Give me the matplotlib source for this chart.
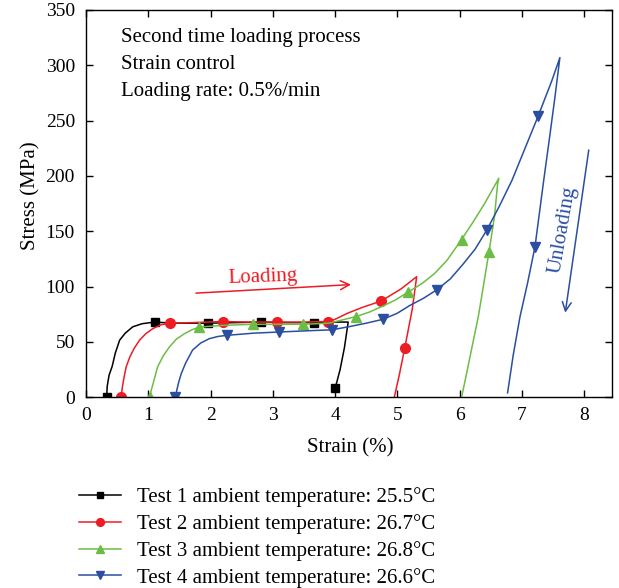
import matplotlib
matplotlib.use('Agg')
import matplotlib.pyplot as plt
from matplotlib.lines import Line2D

plt.rcParams['font.family'] = ['Liberation Serif', 'DejaVu Serif']

# test 1 (black)
strain_1 = [0.33, 0.34, 0.37, 0.42, 0.47, 0.54, 0.63, 0.75, 0.90, 1.10, 1.40, 1.96, 2.40, 2.81, 3.20,
            3.66, 4.00, 4.21, 4.15, 4.08, 4.00]
stress_1 = [0, 10, 20, 28, 40, 51.7, 58, 63.7, 66.5, 68, 67, 67, 67.5, 68, 67.5,
            67.5, 68, 68, 45, 25, 8]
marks_1 = [0, 9, 11, 13, 15, 20]

# test 2 (red)
strain_2 = [0.565, 0.58, 0.61, 0.645, 0.70, 0.77, 0.86, 0.96, 1.07, 1.20, 1.35, 1.70, 2.20, 2.60, 3.06,
            3.50, 3.88, 4.00, 4.20, 4.45, 4.74, 5.06, 5.31, 5.24, 5.12, 5.03, 4.95]
stress_2 = [0, 8, 18, 27.6, 36, 44, 51.7, 57.5, 62, 65.5, 67, 67.5, 68.5, 68, 68,
            68, 68.5, 70.5, 76, 81.5, 87, 98, 109, 80, 45, 20, 0]
marks_2 = [0, 10, 12, 14, 16, 20, 24]

# test 3 (green)
strain_3 = [1.02, 1.05, 1.09, 1.15, 1.24, 1.34, 1.45, 1.58, 1.70, 1.82, 2.20, 2.68, 3.10, 3.49, 3.90,
            4.34, 4.55, 4.75, 4.97, 5.17, 5.40, 5.60, 5.80, 6.03, 6.20, 6.40, 6.63, 6.61, 6.56, 6.47,
            6.38, 6.30, 6.19, 6.08, 6.03]
stress_3 = [0, 7, 15, 27.6, 37.5, 45.6, 52.5, 57.5, 61, 63.5, 65, 66, 66, 66, 67,
            73, 77, 82, 88, 95, 103, 112, 124, 142.5, 157, 175, 198, 193, 163.5, 131,
            100, 73, 43, 13, 0]
marks_3 = [0, 9, 11, 13, 15, 19, 23, 29]

# test 4 (blue)
strain_4 = [1.435, 1.46, 1.49, 1.53, 1.60, 1.71, 1.84, 1.98, 2.12, 2.26, 2.70, 3.10, 3.50, 3.95, 4.24,
            4.50, 4.77, 5.00, 5.20, 5.42, 5.63, 5.85, 6.05, 6.25, 6.44, 6.64, 6.84, 7.05, 7.26, 7.48,
            7.61, 7.53, 7.44, 7.35, 7.21, 7.09, 6.97, 6.86, 6.77]
stress_4 = [0, 7, 14, 21.6, 31, 42.6, 49, 53, 55, 56, 58, 59, 60, 61, 64,
            67, 70.5, 76, 83, 89.5, 97, 107, 120, 134, 151.5, 173, 196, 225, 254, 286,
            307, 271, 233, 196, 136, 103, 73, 38, 4]
marks_4 = [0, 9, 11, 13, 16, 20, 24, 28, 34]

labels = ['Test 1 ambient temperature: 25.5°C',
          'Test 2 ambient temperature: 26.7°C',
          'Test 3 ambient temperature: 26.8°C',
          'Test 4 ambient temperature: 26.6°C']
colors = ['#000000', '#ed1c24', '#6cbd45', '#2a4ea0']
markers = ['s', 'o', '^', 'v']
msizes = [6, 7, 7.5, 7.5]

notes = ['Second time loading process', 'Strain control', 'Loading rate: 0.5%/min']

fig = plt.figure(figsize=(6.19, 5.88), dpi=100)
ax = fig.add_axes([0.139, 0.3243, 0.850, 0.6587])

series = [(strain_1, stress_1, marks_1), (strain_2, stress_2, marks_2),
          (strain_3, stress_3, marks_3), (strain_4, stress_4, marks_4)]
handles = []
for (xs, ys, idx), c, m, ms, lab in zip(series, colors, markers, msizes, labels):
    ax.plot(xs, ys, color=c, lw=1.1)
    ax.plot([xs[i] for i in idx], [ys[i] for i in idx], ls='none', marker=m,
            ms=ms, color=c)
    handles.append(Line2D([], [], color=c, lw=1.1, marker=m, ms=ms * 0.8, label=lab))

ax.set_xlim(0, 8.45)
ax.set_ylim(0, 350)
ax.set_xticks(range(0, 9))
ax.set_yticks(range(0, 351, 50))
ax.tick_params(direction='in', top=True, right=True, length=5, width=1, labelsize=14)
ax.tick_params(axis='x', pad=7)
ax.tick_params(axis='y', pad=8)
for s in ax.spines.values():
    s.set_linewidth(1)

ax.set_xlabel('Strain (%)', fontsize=15)
ax.set_ylabel('Stress (MPa)', fontsize=15)
ax.xaxis.set_label_coords(0.502, -0.105)
ax.yaxis.set_label_coords(-0.087, 0.52)

for i, t in enumerate(notes):
    ax.text(0.56, 321.5 - 24.7 * i, t, fontsize=15, va='baseline', ha='left')

# loading / unloading annotations
ax.annotate('', xy=(4.30, 102), xytext=(1.72, 94),
            arrowprops=dict(arrowstyle='->', color=colors[1], lw=1.1, mutation_scale=16))
ax.text(2.84, 108.5, 'Loading', color=colors[1], fontsize=15, ha='center', va='center',
        rotation=2)
ax.annotate('', xy=(7.69, 74), xytext=(8.08, 226),
            arrowprops=dict(arrowstyle='->', color=colors[3], lw=1.1, mutation_scale=16))
ax.text(7.65, 151, 'Unloading', color=colors[3], fontsize=15, ha='center', va='center',
        rotation=80)

fig.legend(handles=handles, loc='upper left', bbox_to_anchor=(0.128, 0.171),
           frameon=False, fontsize=15, handlelength=2.0, handletextpad=0.75,
           labelspacing=0.33, borderaxespad=0, borderpad=0)

fig.savefig('out.png', dpi=100)
